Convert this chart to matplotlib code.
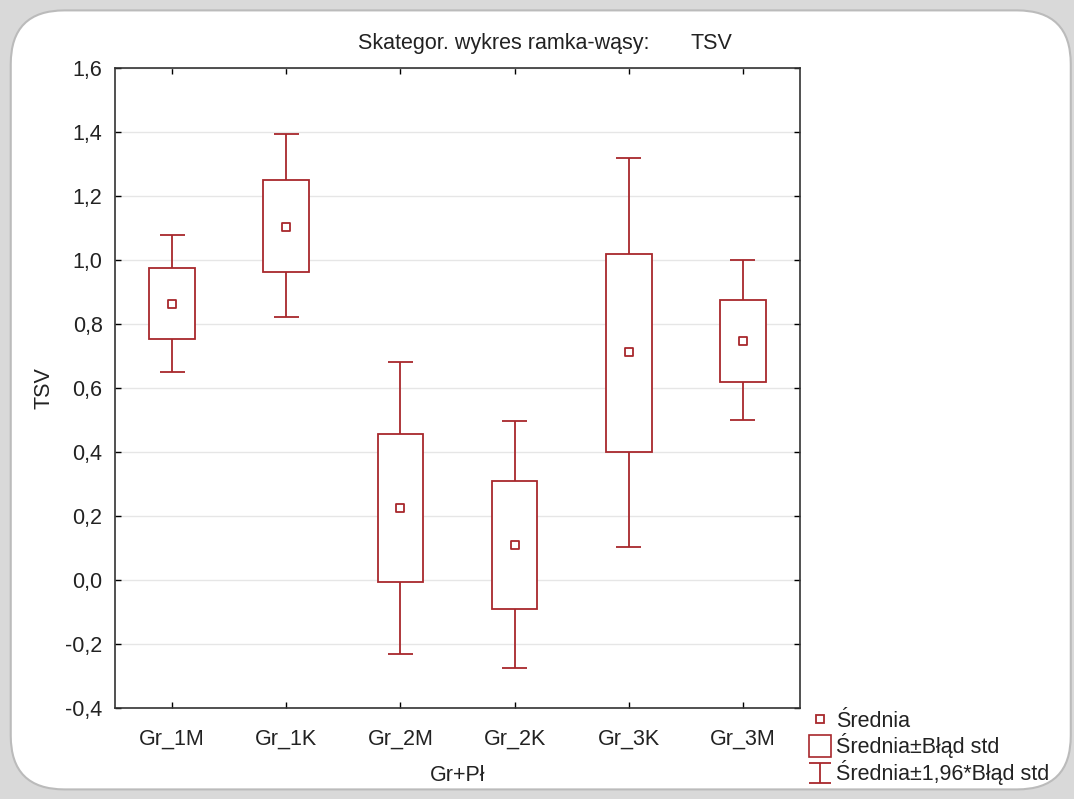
import numpy as np
import matplotlib
import matplotlib.pyplot as plt
from matplotlib.lines import Line2D
from matplotlib.path import Path
from matplotlib.patches import FancyBboxPatch

plt.rcParams['font.family'] = ['Liberation Sans', 'DejaVu Sans']

groups = ['Gr_1M', 'Gr_1K', 'Gr_2M', 'Gr_2K', 'Gr_3K', 'Gr_3M']
means = [0.862, 1.103, 0.225, 0.109, 0.712, 0.747]
box_lo = [0.753, 0.962, -0.006, -0.091, 0.400, 0.619]
box_hi = [0.975, 1.250, 0.456, 0.309, 1.019, 0.875]
wh_lo = [0.650, 0.822, -0.231, -0.275, 0.103, 0.500]
wh_hi = [1.078, 1.394, 0.681, 0.497, 1.319, 1.000]
y_ticks = [-0.4, -0.2, 0.0, 0.2, 0.4, 0.6, 0.8, 1.0, 1.2, 1.4, 1.6]
y_labels = ['-0,4', '-0,2', '0,0', '0,2', '0,4', '0,6', '0,8', '1,0', '1,2', '1,4', '1,6']

red = '#a8282c'
text_col = '#222222'
fs = 15.5

fig = plt.figure(figsize=(10.74, 7.99), dpi=100)
fig.patch.set_facecolor('#d9d9d9')

# slide frame behind the chart
frame = FancyBboxPatch((0.010, 0.012), 0.987, 0.975, boxstyle='round,pad=0,rounding_size=0.05',
                       transform=fig.transFigure, facecolor='white', edgecolor='#bbbbbb',
                       linewidth=1.5, zorder=-10, mutation_aspect=1074 / 799)
fig.patches.append(frame)

ax = fig.add_axes([0.1071, 0.1139, 0.6378, 0.801])
ax.set_facecolor('white')

x = np.arange(len(groups))
box_w = 0.4
cap_w = 0.22

ax.bar(x, np.array(box_hi) - np.array(box_lo), bottom=box_lo, width=box_w,
       facecolor='white', edgecolor=red, linewidth=1.3, zorder=3)
ax.vlines(x, wh_lo, box_lo, color=red, linewidth=1.3, zorder=3)
ax.vlines(x, box_hi, wh_hi, color=red, linewidth=1.3, zorder=3)
ax.hlines(wh_lo, x - cap_w / 2, x + cap_w / 2, color=red, linewidth=1.3, zorder=3)
ax.hlines(wh_hi, x - cap_w / 2, x + cap_w / 2, color=red, linewidth=1.3, zorder=3)
ax.scatter(x, means, marker='s', s=40, facecolor='white', edgecolor=red, linewidth=1.3, zorder=4)

ax.set_xlim(-0.5, len(groups) - 0.5)
ax.set_ylim(-0.4, 1.6)
ax.set_xticks(x, groups)
ax.set_yticks(y_ticks, y_labels)
ax.grid(axis='y', color='#e6e6e6', linewidth=1, zorder=0)
ax.set_axisbelow(True)
ax.tick_params(direction='in', length=4, width=1, top=True, right=True,
               labelsize=fs, labelcolor=text_col)
ax.tick_params(axis='x', pad=15)
ax.tick_params(axis='y', pad=9)
for s in ax.spines.values():
    s.set_linewidth(1.2)
    s.set_color('#333333')

ax.set_xlabel('Gr+Pł', fontsize=fs, color=text_col, labelpad=11)
ax.set_ylabel('TSV', fontsize=fs, color=text_col, labelpad=8)

fig.text(0.333, 0.946, 'Skategor. wykres ramka-wąsy:', fontsize=fs, color=text_col, ha='left', va='center')
fig.text(0.643, 0.946, 'TSV', fontsize=fs, color=text_col, ha='left', va='center')

i_marker = Path([(-1, 0.9), (1, 0.9), (0, 0.9), (0, -0.9), (-1, -0.9), (1, -0.9)],
                [Path.MOVETO, Path.LINETO, Path.MOVETO, Path.LINETO, Path.MOVETO, Path.LINETO])
handles = [
    Line2D([], [], ls='none', marker='s', ms=6, mfc='white', mec=red, mew=1.3),
    Line2D([], [], ls='none', marker='s', ms=16, mfc='white', mec=red, mew=1.2),
    Line2D([], [], ls='none', marker=i_marker, ms=16, mfc='none', mec=red, mew=1.3),
]
labels = ['Średnia', 'Średnia±Błąd std', 'Średnia±1,96*Błąd std']
fig.legend(handles, labels, loc='upper left', bbox_to_anchor=(0.743, 0.124),
           frameon=False, fontsize=fs, handlelength=1.0, handletextpad=0.25,
           labelspacing=0.08, borderpad=0.0, labelcolor=text_col)

plt.savefig('out.png', dpi=100)
